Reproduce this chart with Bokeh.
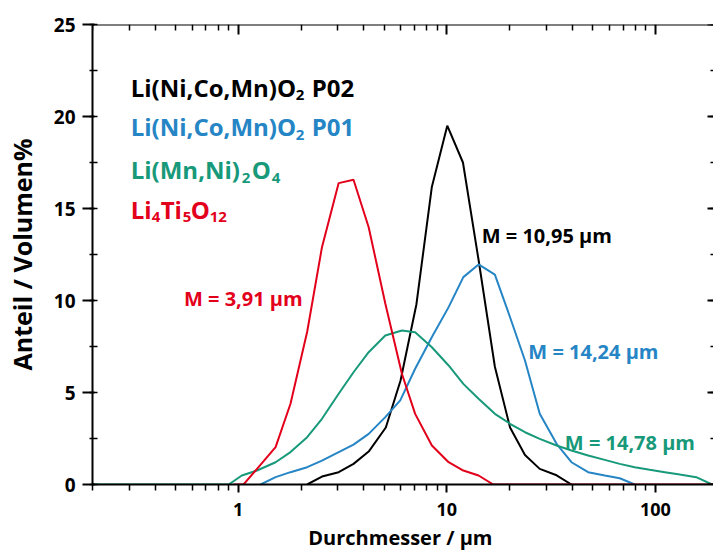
from bokeh.plotting import figure
from bokeh.models import (LogAxis, LinearAxis, FixedTicker, SingleIntervalTicker,
                          Range1d, Label)
from bokeh.embed import file_html
from bokeh.resources import INLINE

# ---------------- data ----------------
x_p02 = [2.14, 2.52, 3.03, 3.57, 4.22, 5.1, 6.0, 7.15, 8.47, 10.05, 11.95, 14.2,
         17.0, 20.1, 23.7, 27.9, 33.6, 39.6]
y_p02 = [0, 0.43, 0.67, 1.12, 1.79, 3.1, 5.65, 9.8, 16.15, 19.5, 17.5, 12.2,
         6.4, 3.1, 1.6, 0.85, 0.5, 0]

x_p01 = [1.28, 1.51, 1.78, 2.14, 2.52, 3.03, 3.57, 4.22, 5.07, 5.98, 7.05, 8.47,
         10.2, 12.0, 14.2, 17.0, 20.1, 23.7, 27.9, 33.6, 39.6, 47.6, 57.2, 67.5, 79.6]
y_p01 = [0, 0.4, 0.67, 0.94, 1.30, 1.76, 2.17, 2.75, 3.66, 4.57, 6.29, 8.0,
         9.64, 11.27, 11.96, 11.41, 9.09, 6.74, 3.85, 2.21, 1.21, 0.67, 0.49, 0.34, 0]

x_lmno = [0.2, 0.9, 1.04, 1.23, 1.51, 1.78, 2.14, 2.52, 3.03, 3.57, 4.22, 5.07,
          6.09, 7.05, 8.48, 10.2, 12.0, 14.2, 17.0, 20.1, 23.7, 27.9, 33.6, 39.6,
          47.6, 57.2, 67.5, 79.6, 94, 111, 131, 157, 187]
y_lmno = [0, 0, 0.49, 0.76, 1.21, 1.76, 2.57, 3.57, 4.93, 6.1, 7.19, 8.1,
          8.37, 8.28, 7.46, 6.47, 5.47, 4.66, 3.84, 3.3, 2.84, 2.48, 2.12, 1.85,
          1.58, 1.34, 1.12, 0.94, 0.8, 0.67, 0.54, 0.4, 0]

x_lto = [0.95, 1.06, 1.23, 1.51, 1.78, 2.14, 2.52, 3.03, 3.57, 4.22, 5.07, 6.09,
         7.05, 8.48, 10.2, 12.0, 14.2, 16.7, 200]
y_lto = [0, 0, 0.85, 2.03, 4.39, 8.3, 12.9, 16.38, 16.56, 13.98, 9.84, 6.02,
         3.84, 2.12, 1.21, 0.76, 0.49, 0, 0]

median_labels = ["M = 10,95 µm", "M = 14,24 µm", "M = 14,78 µm", "M = 3,91 µm"]
x_major_ticks = [1, 10, 100]
X_START, X_END = 0.2, 190
Y_START, Y_END = 0, 25

BLACK = "#000000"
BLUE = "#2585c5"
GREEN = "#17997a"
RED = "#e3001b"
FONT = "Open Sans"

# ---------------- figure ----------------
p = figure(width=713, height=560, x_axis_type="log",
           x_range=Range1d(X_START, X_END), y_range=Range1d(Y_START, Y_END),
           output_backend="svg", toolbar_location=None,
           min_border_left=92, min_border_right=0, min_border_top=24,
           min_border_bottom=76)
p.outline_line_color = None
p.xgrid.visible = False
p.ygrid.visible = False

minor_x = [m * 10.0 ** e for e in (-1, 0, 1, 2) for m in range(2, 10)]
xticker = FixedTicker(ticks=x_major_ticks, minor_ticks=minor_x)
yticker = SingleIntervalTicker(interval=5, num_minor_ticks=2)

xa = p.xaxis[0]
xa.ticker = xticker
xa.major_label_overrides = {t: str(t) for t in x_major_ticks}
xa.axis_label = "Durchmesser /  µm"
ya = p.yaxis[0]
ya.ticker = yticker
ya.axis_label = "Anteil / Volumen%"

for ax in (xa, ya):
    ax.axis_line_width = 2
    ax.major_tick_line_width = 2
    ax.minor_tick_line_width = 1.5
    ax.axis_line_color = "black"
    ax.major_label_text_font = FONT
    ax.major_label_text_font_style = "bold"
    ax.major_label_text_color = "black"
    ax.axis_label_text_font = FONT
    ax.axis_label_text_font_style = "bold"
    ax.axis_label_text_color = "black"

xa.major_label_text_font_size = "18px"
xa.major_tick_out = 8
xa.major_tick_in = 0
xa.minor_tick_out = 6
xa.minor_tick_in = 0
xa.major_label_standoff = 10
xa.axis_label_text_font_size = "20px"
xa.axis_label_standoff = 5

ya.major_label_text_font_size = "19px"
ya.major_tick_out = 10
ya.major_tick_in = 2
ya.minor_tick_out = 3
ya.minor_tick_in = 5
ya.major_label_standoff = 7
ya.axis_label_text_font_size = "25px"
ya.axis_label_standoff = 12

top = LogAxis(ticker=xticker, fixed_location=Y_END, major_label_text_font_size="1px",
              major_label_text_alpha=0, major_label_standoff=0, axis_line_width=2,
              major_tick_in=10, major_tick_out=0, minor_tick_in=6, minor_tick_out=0,
              major_tick_line_width=2, minor_tick_line_width=1.5)
p.add_layout(top, "above")

# ticks along the right edge of the frame (pointing inwards)
right = LinearAxis(ticker=yticker, fixed_location=X_END, major_label_text_font_size="1px",
                   major_label_text_alpha=0, major_label_standoff=0,
                   axis_line_color=None,
                   major_tick_in=0, major_tick_out=6, minor_tick_in=0, minor_tick_out=3,
                   major_tick_line_width=2, minor_tick_line_width=1.5)
p.add_layout(right, "left")

# ---------------- curves ----------------
p.line(x_p02, y_p02, line_color=BLACK, line_width=2)
p.line(x_p01, y_p01, line_color=BLUE, line_width=2)
p.line(x_lmno, y_lmno, line_color=GREEN, line_width=2)
p.line(x_lto, y_lto, line_color=RED, line_width=2)

# ---------------- annotations ----------------
def lab(x, y, text, color, size, dx=0, dy=0, style="bold"):
    p.add_layout(Label(x=x, y=y, text=text, text_color=color, text_font=FONT,
                       text_font_size=size, text_font_style=style,
                       text_baseline="alphabetic", text_align="left",
                       x_offset=dx, y_offset=dy))

# median labels
MS = "20px"
lab(14.7, 13.53, median_labels[0], BLACK, MS)
lab(24.6, 7.23, median_labels[1], BLUE, MS)
lab(36.8, 2.27, median_labels[2], GREEN, MS)
lab(0.549, 10.09, median_labels[3], RED, MS)

# legend texts (with subscripts)
LX = 0.305
SUB = "15px"
BIG = "24px"
lab(LX, 21.6, "Li(Ni,Co,Mn)O", BLACK, BIG)
lab(LX, 21.6, "2", BLACK, SUB, dx=165, dy=-8)
lab(LX, 21.6, "P02", BLACK, BIG, dx=181)

lab(LX, 19.45, "Li(Ni,Co,Mn)O", BLUE, BIG)
lab(LX, 19.45, "2", BLUE, SUB, dx=165, dy=-8)
lab(LX, 19.45, "P01", BLUE, BIG, dx=181)

lab(LX, 17.1, "Li(Mn,Ni)", GREEN, BIG)
lab(LX, 17.1, "2", GREEN, SUB, dx=111, dy=-8)
lab(LX, 17.1, "O", GREEN, BIG, dx=121)
lab(LX, 17.1, "4", GREEN, SUB, dx=141, dy=-8)

lab(LX, 14.95, "Li", RED, BIG)
lab(LX, 14.95, "4", RED, SUB, dx=21, dy=-8)
lab(LX, 14.95, "Ti", RED, BIG, dx=30)
lab(LX, 14.95, "5", RED, SUB, dx=52, dy=-8)
lab(LX, 14.95, "O", RED, BIG, dx=60)
lab(LX, 14.95, "12", RED, SUB, dx=79, dy=-8)

open("out.html", "w").write(file_html(p, INLINE))
